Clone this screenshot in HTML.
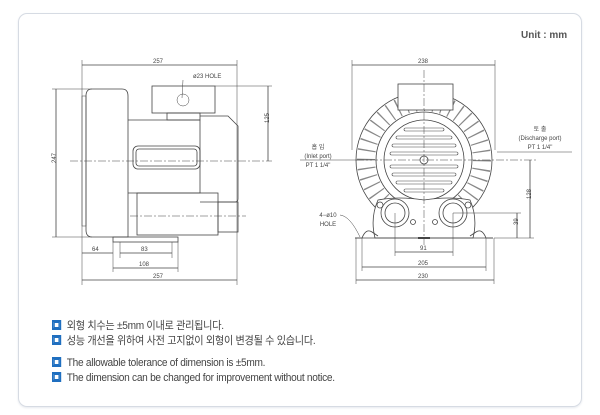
<!DOCTYPE html>
<html><head><meta charset="utf-8"><style>
html,body{margin:0;padding:0;background:#fff;}
body{width:600px;height:415px;position:relative;overflow:hidden;font-family:"Liberation Sans","Noto Sans CJK KR",sans-serif;}
.frame{position:absolute;left:18px;top:13px;width:562px;height:392px;border:1px solid #d6dbe3;border-radius:9px;box-shadow:0 1px 2px #e6e9ee;}
.unit{position:absolute;left:521px;top:30px;font-size:10px;font-weight:bold;color:#555;}
.note{position:absolute;left:52px;font-size:11px;color:#444;letter-spacing:-0.3px;transform:scaleX(0.92);transform-origin:left;white-space:nowrap;}
.note b{display:inline-block;width:6px;height:6px;border:2px solid #1f6fc0;background:#fff;margin-right:6px;vertical-align:-1px;box-shadow:inset 0 0 0 1px #1f6fc0;}
svg{position:absolute;left:0;top:0;}
</style></head><body>
<div class="frame"></div>
<div class="unit">Unit : mm</div>
<svg width="600" height="415" viewBox="0 0 600 415" font-family="Liberation Sans, Noto Sans CJK KR, sans-serif" font-size="6" fill="none" stroke="#444" stroke-width="0.8">
<g>
<line x1="82" y1="65" x2="237" y2="65"/>
<line x1="82" y1="60" x2="82" y2="285" stroke-width="0.5"/>
<line x1="237" y1="60" x2="237" y2="285" stroke-width="0.5"/>
<text x="153" y="63" fill="#444" stroke="none">257</text>
<text x="193" y="78" fill="#444" stroke="none">ø23 HOLE</text>
<line x1="183" y1="80" x2="182" y2="98" stroke-width="0.5"/>
<rect x="82" y="96" width="4" height="130" stroke-width="0.5"/>
<path d="M92 89 H122 Q128 89 128 96 V237 H92 Q86 237 86 230 V96 Q86 89 92 89 Z"/>
<rect x="152" y="86" width="63" height="27"/>
<circle cx="183" cy="100" r="6" stroke-width="0.5"/>
<rect x="167" y="113" width="33" height="7"/>
<path d="M128 120 H200 V193 H128"/>
<path d="M200 116 H228 L238 126 V199 Q238 202 235 202 H200"/>
<rect x="133" y="146" width="67" height="23" rx="5"/>
<rect x="136" y="149" width="61" height="17" rx="3"/>
<line x1="70" y1="161" x2="272" y2="161" stroke-dasharray="8 2 2 2" stroke-width="0.5"/>
<rect x="137" y="193" width="81" height="42"/>
<rect x="218" y="202" width="20" height="30"/>
<line x1="130" y1="216" x2="246" y2="216" stroke-dasharray="8 2 2 2" stroke-width="0.5"/>
<rect x="113" y="237" width="65" height="5"/>
<line x1="113" y1="242" x2="113" y2="272" stroke-width="0.5"/>
<line x1="178" y1="242" x2="178" y2="272" stroke-width="0.5"/>
<line x1="120" y1="242" x2="120" y2="258" stroke-width="0.5"/>
<line x1="172" y1="242" x2="172" y2="258" stroke-width="0.5"/>
<line x1="82" y1="253" x2="113" y2="253"/><text x="92" y="251" fill="#444" stroke="none">64</text>
<line x1="120" y1="253" x2="172" y2="253"/><text x="141" y="251" fill="#444" stroke="none">83</text>
<line x1="113" y1="268" x2="178" y2="268"/><text x="139" y="266" fill="#444" stroke="none">108</text>
<line x1="82" y1="280" x2="237" y2="280"/><text x="153" y="278" fill="#444" stroke="none">257</text>
<line x1="56" y1="89" x2="56" y2="237"/>
<line x1="52" y1="89" x2="92" y2="89" stroke-width="0.5"/>
<line x1="52" y1="237" x2="92" y2="237" stroke-width="0.5"/>
<text x="53" y="166" fill="#444" stroke="none" transform="rotate(-90 53 163)">247</text>
<line x1="268" y1="86" x2="268" y2="161"/>
<line x1="215" y1="86" x2="272" y2="86" stroke-width="0.5"/>
<text x="266" y="126" fill="#444" stroke="none" transform="rotate(-90 266 123)">125</text>
</g>
<g>
<line x1="352" y1="65" x2="495" y2="65"/>
<line x1="352" y1="60" x2="352" y2="150" stroke-width="0.5"/>
<line x1="495" y1="60" x2="495" y2="150" stroke-width="0.5"/>
<text x="418" y="63" fill="#444" stroke="none">238</text>
<circle cx="424" cy="160" r="68"/>
<circle cx="424" cy="160" r="58" stroke="#888" stroke-width="18" stroke-dasharray="1.3 7.8"/>
<circle cx="424" cy="160" r="48" fill="#fff"/>
<circle cx="424" cy="160" r="40"/>
<g stroke-width="0.6">
<rect x="404" y="128" width="40" height="3" rx="1.5"/>
<rect x="396" y="136" width="56" height="3" rx="1.5"/>
<rect x="392" y="144" width="64" height="3" rx="1.5"/>
<rect x="390" y="152" width="68" height="3" rx="1.5"/>
<rect x="390" y="165" width="68" height="3" rx="1.5"/>
<rect x="392" y="173" width="64" height="3" rx="1.5"/>
<rect x="396" y="181" width="56" height="3" rx="1.5"/>
<rect x="404" y="189" width="40" height="3" rx="1.5"/>
</g>
<circle cx="424" cy="160" r="4" fill="#fff"/>
<rect x="398" y="84" width="55" height="26" fill="#fff"/>
<path d="M378 200 Q370 218 375 238 H473 Q478 218 470 200 Q450 196 424 200 Q398 196 378 200 Z" fill="#fff"/>
<circle cx="395" cy="213" r="14" fill="#fff"/><circle cx="395" cy="213" r="10"/>
<circle cx="453" cy="213" r="14" fill="#fff"/><circle cx="453" cy="213" r="10"/>
<circle cx="380" cy="205" r="3"/><circle cx="468" cy="205" r="3"/>
<circle cx="413" cy="222" r="2.5"/><circle cx="435" cy="222" r="2.5"/>
<path d="M355 238 H362 Q366 228 372 232 L378 236 M470 236 L476 232 Q482 228 486 238 H493"/>
<line x1="355" y1="238" x2="493" y2="238"/>
<line x1="418" y1="238" x2="430" y2="238" stroke-width="2"/>
<line x1="424" y1="70" x2="424" y2="245" stroke-dasharray="8 2 2 2" stroke-width="0.5"/>
<line x1="300" y1="160" x2="372" y2="160" stroke-width="0.6"/>
<line x1="356" y1="160" x2="538" y2="160" stroke-dasharray="8 2 2 2" stroke-width="0.5"/>
<line x1="497" y1="152" x2="572" y2="152" stroke-width="0.6"/>
<text x="318" y="149" fill="#444" stroke="none" text-anchor="middle">흡 입</text>
<text x="318" y="158" fill="#444" stroke="none" text-anchor="middle">(Inlet port)</text>
<text x="318" y="167" fill="#444" stroke="none" text-anchor="middle">PT 1 1/4"</text>
<text x="540" y="131" fill="#444" stroke="none" text-anchor="middle">토 출</text>
<text x="540" y="140" fill="#444" stroke="none" text-anchor="middle">(Discharge port)</text>
<text x="540" y="149" fill="#444" stroke="none" text-anchor="middle">PT 1 1/4"</text>
<text x="328" y="217" fill="#444" stroke="none" text-anchor="middle">4−ø10</text>
<text x="328" y="226" fill="#444" stroke="none" text-anchor="middle">HOLE</text>
<path d="M340 215 Q350 216 360 237" stroke-width="0.5"/>
<line x1="395" y1="213" x2="395" y2="256" stroke-width="0.5"/>
<line x1="453" y1="213" x2="453" y2="256" stroke-width="0.5"/>
<line x1="362" y1="238" x2="362" y2="271" stroke-width="0.5"/>
<line x1="486" y1="238" x2="486" y2="271" stroke-width="0.5"/>
<line x1="356" y1="238" x2="356" y2="284" stroke-width="0.5"/>
<line x1="494" y1="238" x2="494" y2="284" stroke-width="0.5"/>
<line x1="395" y1="252" x2="453" y2="252"/><text x="420" y="250" fill="#444" stroke="none">91</text>
<line x1="362" y1="267" x2="486" y2="267"/><text x="418" y="265" fill="#444" stroke="none">205</text>
<line x1="356" y1="280" x2="494" y2="280"/><text x="418" y="278" fill="#444" stroke="none">230</text>
<line x1="530" y1="160" x2="530" y2="238"/>
<line x1="494" y1="238" x2="534" y2="238" stroke-width="0.5"/>
<text x="528" y="202" fill="#444" stroke="none" transform="rotate(-90 528 199)">128</text>
<line x1="517" y1="213" x2="517" y2="238"/>
<line x1="453" y1="213" x2="521" y2="213" stroke-width="0.5"/>
<text x="515" y="228" fill="#444" stroke="none" transform="rotate(-90 515 225)">39</text>
</g>
</svg>
<div class="note" style="top:317px"><b></b>외형 치수는 ±5mm 이내로 관리됩니다.</div>
<div class="note" style="top:332px"><b></b>성능 개선을 위하여 사전 고지없이 외형이 변경될 수 있습니다.</div>
<div class="note" style="top:357px"><b></b>The allowable tolerance of dimension is ±5mm.</div>
<div class="note" style="top:372px"><b></b>The dimension can be changed for improvement without notice.</div>
</body></html>
